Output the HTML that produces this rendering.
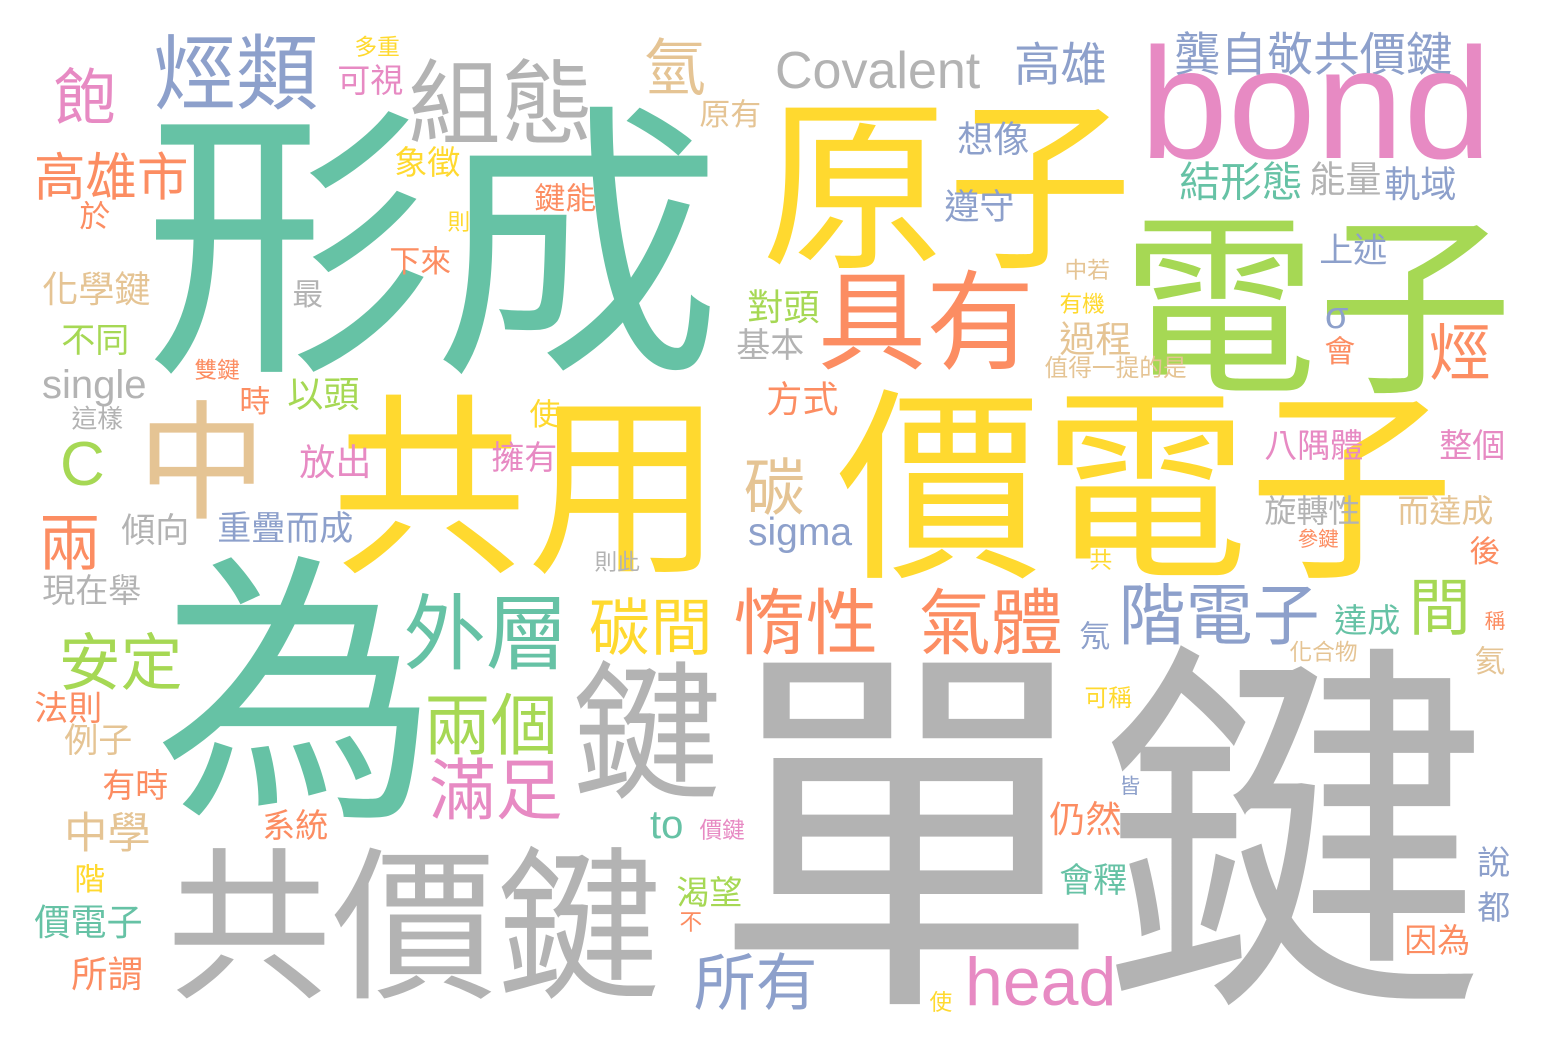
<!DOCTYPE html>
<html><head><meta charset="utf-8">
<style>
html,body{margin:0;padding:0;background:#fff;}
svg{display:block;}
text{font-family:"Liberation Sans","Noto Sans CJK TC",sans-serif;}
</style></head>
<body>
<svg id="cloud" width="1548" height="1052" viewBox="0 0 1548 1052" xmlns="http://www.w3.org/2000/svg">
<rect x="0" y="0" width="1548" height="1052" fill="#ffffff"/>
</svg>
<script>
const T="#66c2a5",O="#fc8d62",B="#8da0cb",P="#e78ac3",G="#a6d854",Y="#ffd92f",N="#e5c494",R="#b3b3b3";
// CJK words: [text, left, top, bottom, color]
const cjkWords=[
["形成",150,95,375,T],["為",160,545,820,T],["單鍵",720,632,1008,R],["價電子",840,380,580,Y],
["共用",335,385,575,Y],["原子",765,90,270,Y],["電子",1125,205,395,G],["共價鍵",170,840,1000,R],
["中",140,395,520,N],["具有",820,265,370,O],["鍵",575,655,800,R],["組態",410,55,145,R],
["烴類",155,30,110,B],["外層",405,590,670,T],["惰性",735,585,655,O],["氣體",920,585,655,O],
["碳間",590,595,655,Y],["階電子",1120,580,645,B],["兩個",425,690,755,G],["滿足",430,755,820,P],
["所有",695,950,1010,B],["安定",60,630,690,G],["兩",40,510,570,O],["飽",55,65,125,P],
["高雄市",35,150,200,O],["氫",645,35,95,N],["高雄",1015,40,85,B],["龔自敬共價鍵",1175,30,75,B],
["烴",1430,320,380,O],["碳",745,455,515,N],["結形態",1180,160,200,T],["能量",1310,160,195,R],
["軌域",1385,165,200,B],["想像",958,120,155,B],["遵守",945,188,222,B],["上述",1320,232,265,B],
["會",1325,335,365,O],["過程",1060,320,355,N],["值得一提的是",1045,355,378,N],["中若",1065,258,280,N],
["有機",1060,292,314,Y],["對頭",748,288,323,G],["基本",737,327,360,R],["方式",767,380,415,O],
["八隅體",1265,428,460,P],["整個",1440,428,460,P],["旋轉性",1265,494,525,R],["而達成",1398,494,525,N],
["後",1470,535,565,O],["參鍵",1298,528,548,O],["共",1090,548,570,Y],["間",1410,575,635,G],
["達成",1335,603,635,T],["稱",1485,610,630,O],["化合物",1290,640,662,N],["氦",1475,645,675,N],
["氖",1080,620,650,B],["可稱",1085,685,708,Y],["皆",1120,775,795,B],["仍然",1050,800,835,O],
["會釋",1060,862,895,T],["說",1478,845,877,B],["都",1478,890,922,B],["因為",1405,923,955,O],
["使",930,990,1012,Y],["價鍵",700,818,840,P],["渴望",677,875,907,G],["不",680,910,932,O],
["則此",595,550,572,R],["擁有",492,440,472,P],["使",530,398,428,Y],["以頭",288,375,410,G],
["放出",300,443,478,P],["時",240,385,415,O],["雙鍵",195,358,380,O],["最",293,278,308,R],
["下來",390,245,275,O],["則",448,210,232,Y],["鍵能",535,182,212,O],["象徵",395,145,177,Y],
["原有",700,98,128,N],["可視",338,63,95,P],["多重",355,35,57,Y],["於",80,200,230,O],
["化學鍵",43,270,305,N],["不同",62,322,355,G],["這樣",72,405,430,R],["傾向",122,512,545,R],
["重疊而成",218,510,543,B],["現在舉",43,573,605,R],["法則",35,690,723,O],["例子",65,722,755,N],
["有時",103,768,800,O],["中學",65,810,852,N],["系統",263,808,840,O],["階",75,863,893,Y],
["價電子",35,903,938,T],["所謂",72,955,990,O]
];
// Latin words: [text, left, baseline, fontSize, color]
const latinWords=[
["bond",1140,158,158,P],["Covalent",775,88,52,R],["head",965,1005,68,P],["C",60,485,62,G],
["sigma",748,545,39,B],["single",42,398,40,R],["to",650,838,40,T],["σ",1325,328,38,B]
];
const svg=document.getElementById('cloud');
const NS="http://www.w3.org/2000/svg";
cjkWords.forEach(function(w){
  const h=w[3]-w[2];
  const fs=h/0.97;
  const t=document.createElementNS(NS,'text');
  t.setAttribute('x',(w[1]-0.02*fs).toFixed(1));
  t.setAttribute('y',(w[3]-0.09*fs).toFixed(1));
  t.setAttribute('font-size',fs.toFixed(1));
  t.setAttribute('fill',w[4]);
  
  
  t.textContent=w[0];
  svg.appendChild(t);
});
latinWords.forEach(function(w){
  const t=document.createElementNS(NS,'text');
  t.setAttribute('x',w[1]);
  t.setAttribute('y',w[2]);
  t.setAttribute('font-size',w[3]);
  t.setAttribute('fill',w[4]);
  
  
  t.textContent=w[0];
  svg.appendChild(t);
});
</script>
</body></html>
